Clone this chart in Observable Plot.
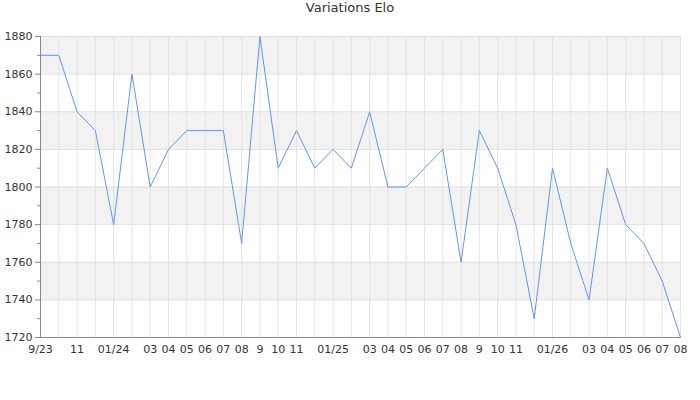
<!DOCTYPE html>
<html>
<head>
<meta charset="utf-8">
<script src="https://cdn.jsdelivr.net/npm/d3@7"></script>
<script src="https://cdn.jsdelivr.net/npm/@observablehq/plot@0.6"></script>
<style>
  html, body { margin: 0; padding: 0; background: #fff; }
  #title { width: 700px; height: 24px; line-height: 24px; text-align: center; font: 13px "DejaVu Sans", sans-serif; color: #333; }
</style>
</head>
<body>
<div id="title">Variations Elo</div>
<div id="chart"></div>
<script>
const months = ["2023-09","2023-10","2023-11","2023-12","2024-01","2024-02","2024-03","2024-04","2024-05","2024-06","2024-07","2024-08",
  "2024-09","2024-10","2024-11","2024-12","2025-01","2025-02","2025-03","2025-04","2025-05","2025-06","2025-07","2025-08",
  "2025-09","2025-10","2025-11","2025-12","2026-01","2026-02","2026-03","2026-04","2026-05","2026-06","2026-07","2026-08"];
const elo = [1870,1870,1840,1830,1780,1860,1800,1820,1830,1830,1830,1770,1880,1810,1830,1810,1820,1810,1840,1800,1800,1810,1820,1760,1830,1810,1780,1730,1810,1770,1740,1810,1780,1770,1750,1720];
const tickLabels = ["9/23","","11","","01/24","","03","04","05","06","07","08","9","10","11","","01/25","","03","04","05","06","07","08","9","10","11","","01/26","","03","04","05","06","07","08"];
const yMajor = [1720,1740,1760,1780,1800,1820,1840,1860,1880];
const yMinor = [1730,1750,1770,1790,1810,1830,1850,1870];
const bands = [[1740,1760],[1780,1800],[1820,1840],[1860,1880]];

const data = months.map((m, i) => ({month: m, elo: elo[i]}));
const labelOf = new Map(months.map((m, i) => [m, tickLabels[i]]));

const chart = Plot.plot({
  width: 700,
  height: 376,
  marginLeft: 40,
  marginRight: 20,
  marginTop: 12,
  marginBottom: 63,
  style: {fontFamily: "DejaVu Sans, sans-serif", fontSize: "11px", color: "#333", background: "#fff"},
  x: {type: "point", domain: months, padding: 0, round: false},
  y: {domain: [1720, 1880]},
  marks: [
    Plot.rect(bands, {y1: d => d[0], y2: d => d[1], fill: "#f2f2f2"}),
    Plot.gridY(yMajor, {stroke: "#e0e0e0", strokeOpacity: 1}),
    Plot.gridX(months, {stroke: "#e4e4e4", strokeOpacity: 1}),
    Plot.line(data, {x: "month", y: "elo", stroke: "#6495ed", strokeWidth: 1}),
    Plot.ruleY([1720], {stroke: "#888"}),
    Plot.ruleX([months[0]], {stroke: "#888"}),
    Plot.axisY(yMajor, {tickSize: 5, tickPadding: 3, tickFormat: d => String(d), stroke: "#888", label: null, fill: "#333"}),
    Plot.axisY(yMinor, {tickSize: 3, tickFormat: () => "", stroke: "#888", label: null}),
    Plot.axisX(months, {tickSize: 0, tickPadding: 8, tickFormat: m => labelOf.get(m), label: null, fill: "#333"})
  ]
});
document.getElementById("chart").appendChild(chart);
</script>
</body>
</html>
